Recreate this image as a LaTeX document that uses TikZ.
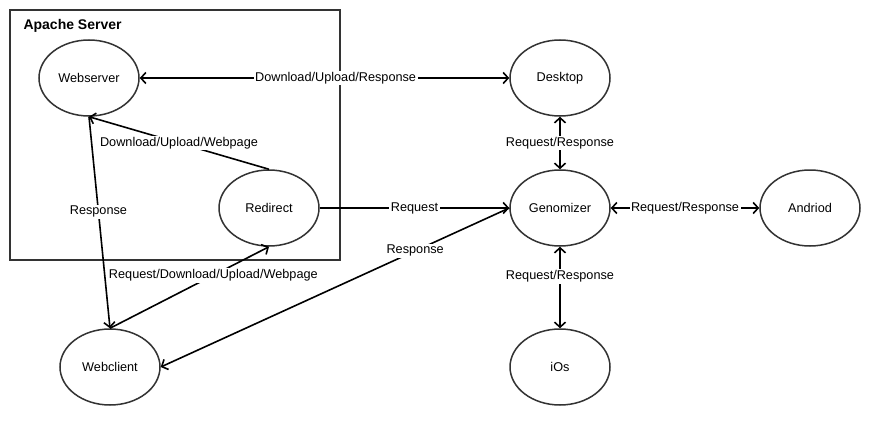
\documentclass[tikz,border=0pt]{standalone}
\usepackage{fontspec}
\setmainfont{Liberation Sans}
\usetikzlibrary{shapes.geometric,arrows.meta}
\definecolor{edgegray}{HTML}{333333}
\begin{document}
\begin{tikzpicture}[x=1pt,y=-1pt,
  ell/.style={ellipse,draw=edgegray,line width=1.5pt,minimum width=100pt,minimum height=76pt,inner sep=0pt,font=\fontsize{12.7}{14}\selectfont},
  conn/.style={line width=1.6pt,black},
  tip/.style={-{Straight Barb[length=5pt,width=11pt,line width=1.6pt]}},
  tips/.style={{Straight Barb[length=5pt,width=11pt,line width=1.6pt]}-{Straight Barb[length=5pt,width=11pt,line width=1.6pt]}},
  lbl/.style={fill=white,inner sep=1.5pt,font=\fontsize{12.7}{14}\selectfont}]
\useasboundingbox (0,0) rectangle (880,425);
\fill[white] (0,0) rectangle (880,425);
\node[draw=edgegray,line width=2pt,minimum width=330pt,minimum height=250pt,inner sep=0pt] (box) at (175,135) {};
\node[anchor=west,font=\bfseries\fontsize{14}{16}\selectfont] (title) at (20,26) {Apache Server};
\node[ell] (webserver) at (89,78) {Webserver};
\node[ell] (redirect) at (269,208) {Redirect};
\node[ell] (webclient) at (110,367) {Webclient};
\node[ell] (desktop) at (560,78) {Desktop};
\node[ell] (genomizer) at (560,208) {Genomizer};
\node[ell] (andriod) at (810,208) {Andriod};
\node[ell] (ios) at (560,367) {iOs};
\draw[conn,tips] (webserver) -- node[lbl,pos=0.53] {Download/Upload/Response} (desktop);
\draw[conn,tip] (redirect.north) -- node[lbl,midway] {Download/Upload/Webpage} (webserver.south);
\draw[conn,tip] (webserver.south) -- node[lbl,pos=0.45] {Response} (webclient.north);
\draw[conn,tip] (webclient.north) -- node[lbl,pos=0.65] {Request/Download/Upload/Webpage} (redirect.south);
\draw[conn,tip] (redirect) -- node[lbl,midway] {Request} (genomizer);
\draw[conn,tip] (genomizer.west) -- node[lbl,pos=0.27] {Response} (webclient.east);
\draw[conn,tips] (desktop) -- node[lbl,midway] {Request/Response} (genomizer);
\draw[conn,tips] (genomizer) -- node[lbl,midway] {Request/Response} (andriod);
\draw[conn,tips] (genomizer) -- node[lbl,pos=0.36] {Request/Response} (ios);
\end{tikzpicture}
\end{document}
